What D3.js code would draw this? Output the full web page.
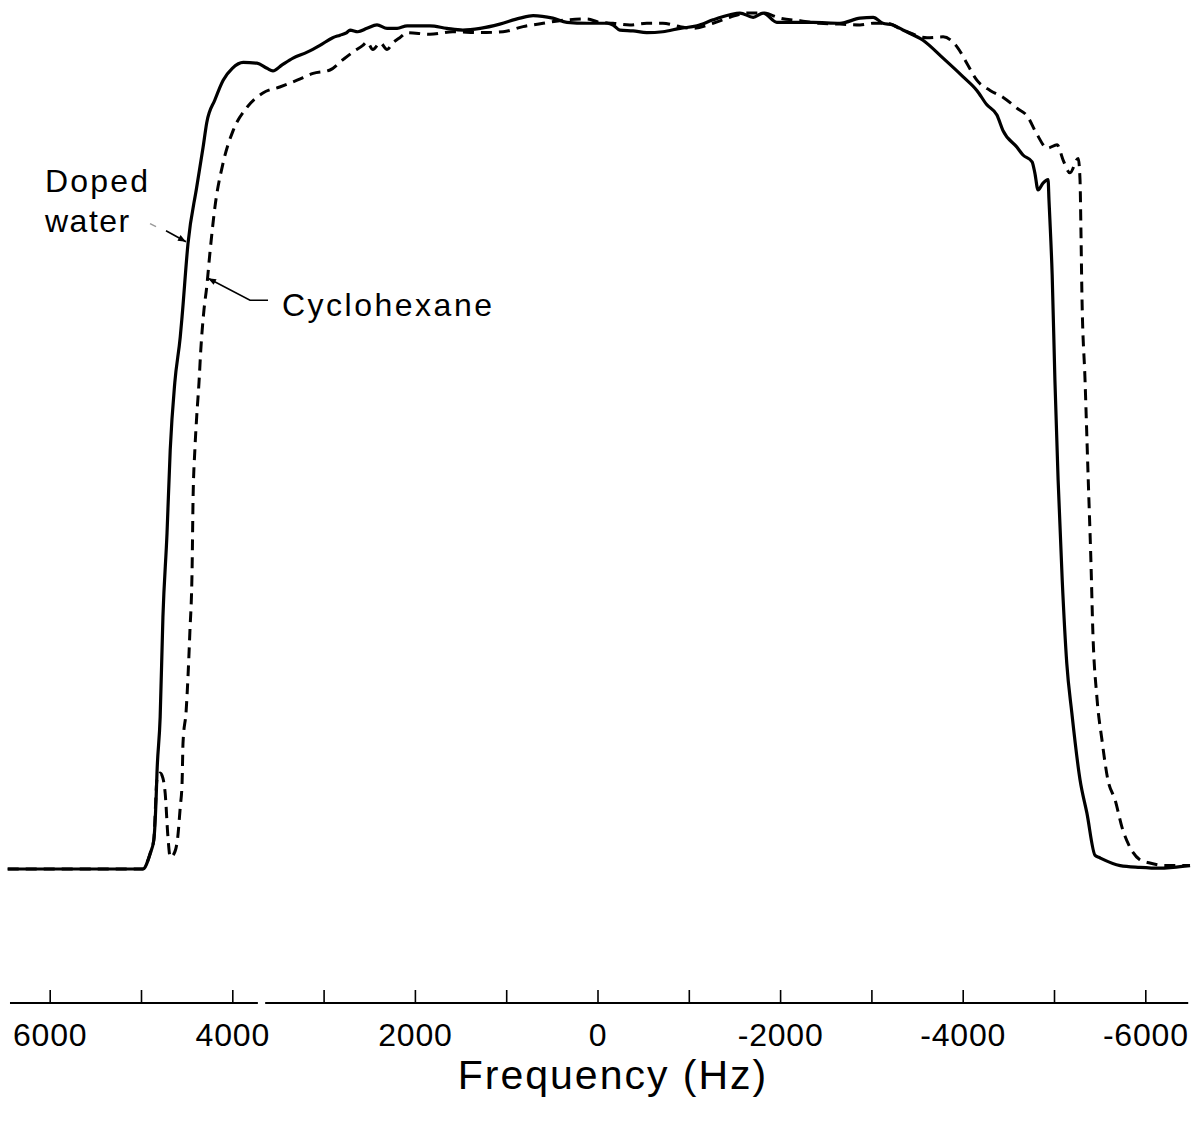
<!DOCTYPE html>
<html>
<head>
<meta charset="utf-8">
<script src="https://cdn.jsdelivr.net/npm/d3@7"></script>
<style>
  html, body { margin: 0; padding: 0; background: #fff; }
  svg { display: block; }
  text { font-family: "Liberation Sans", Arial, Helvetica, sans-serif; fill: #000; }
</style>
</head>
<body>
<svg id="chart" width="1196" height="1123"></svg>
<script>
// Frequency offsets (Hz) and relative signal for the doped-water excitation profile
const waterFreq = [6460, 4980, 4900, 4860, 4835, 4825, 4790, 4760, 4715, 4680, 4630, 4570, 4550, 4485, 4390, 4320, 4280, 4190, 4100, 4000, 3880, 3730, 3620, 3555, 3455, 3335, 3180, 3040, 2900, 2820, 2745, 2710, 2625, 2525, 2415, 2305, 2195, 2085, 1835, 1650, 1475, 1285, 1070, 850, 705, 490, 335, 115, -105, -170, -245, -390, -540, -715, -905, -1090, -1265, -1450, -1560, -1705, -1815, -1965, -2110, -2360, -2655, -2875, -3020, -3125, -3235, -3345, -3565, -3785, -4005, -4155, -4265, -4375, -4440, -4595, -4660, -4760, -4790, -4825, -4880, -4935, -4945, -4955, -4980, -5010, -5045, -5090, -5140, -5195, -5285, -5360, -5450, -5505, -5725, -5940, -6160, -6305, -6490];
const waterSignal = [0, 0, 1.8, 3.4, 8.1, 11.3, 17.9, 29.6, 39.5, 49.3, 57.2, 62.6, 65.0, 73.6, 80.2, 84.9, 87.8, 90.5, 92.8, 94.2, 94.9, 94.8, 94.2, 93.9, 94.6, 95.4, 96.1, 96.9, 97.8, 98.1, 98.4, 98.7, 98.5, 98.9, 99.3, 98.9, 98.9, 99.2, 99.2, 98.9, 98.7, 98.9, 99.4, 100.1, 100.4, 100.1, 99.6, 99.5, 99.5, 99.3, 98.7, 98.6, 98.4, 98.5, 98.9, 99.2, 99.9, 100.5, 100.7, 100.2, 100.7, 99.6, 99.6, 99.6, 99.5, 100.1, 100.2, 99.5, 99.3, 98.7, 97.5, 95.4, 93.2, 91.6, 89.9, 88.7, 86.9, 84.9, 84.0, 83.2, 81.9, 79.9, 80.7, 81.1, 78.7, 76.4, 69.9, 57.5, 45.8, 34.0, 24.2, 18.4, 10.5, 6.6, 1.6, 1.3, 0.4, 0.2, 0.1, 0.2, 0.4];

// Same measurement for cyclohexane
const cycloFreq = [6460, 4980, 4900, 4860, 4825, 4790, 4760, 4735, 4705, 4680, 4650, 4605, 4570, 4550, 4540, 4505, 4465, 4440, 4430, 4410, 4390, 4365, 4345, 4310, 4280, 4245, 4190, 4100, 3990, 3840, 3665, 3480, 3290, 3115, 2930, 2790, 2680, 2570, 2525, 2460, 2380, 2305, 2240, 2165, 2085, 1835, 1585, 1285, 1035, 815, 595, 335, 115, -25, -170, -355, -540, -715, -905, -1045, -1265, -1450, -1635, -1815, -2000, -2220, -2435, -2655, -2875, -3020, -3170, -3345, -3610, -3785, -3940, -4045, -4155, -4300, -4440, -4595, -4705, -4815, -4925, -5035, -5100, -5175, -5265, -5285, -5295, -5305, -5340, -5375, -5405, -5425, -5470, -5525, -5590, -5670, -5745, -5830, -5940, -6050, -6215, -6490];
const cycloSignal = [0, 0, 1.8, 3.4, 10.5, 11.3, 10.7, 8.9, 3.8, 1.4, 1.6, 3.1, 7.3, 10.1, 14.8, 18.7, 27.8, 35.5, 43.4, 49.3, 53.2, 57.2, 61.1, 65.8, 68.5, 72.5, 77.9, 83.1, 86.9, 89.6, 91.3, 92.0, 92.8, 93.6, 94.0, 95.2, 96.1, 96.9, 97.3, 96.4, 97.2, 96.4, 97.2, 97.8, 98.4, 98.2, 98.5, 98.4, 98.5, 99.1, 99.5, 99.9, 100, 99.6, 99.5, 99.3, 99.5, 99.5, 99.1, 98.9, 99.5, 100.2, 100.7, 100.7, 100.1, 99.8, 99.5, 99.4, 99.3, 99.5, 99.5, 98.7, 97.8, 97.9, 96.7, 94.8, 92.8, 91.6, 90.8, 89.5, 88.6, 86.4, 84.8, 85.2, 83.4, 81.9, 83.6, 81.1, 75.2, 68.1, 57.5, 45.8, 36.0, 28.1, 20.2, 15.2, 10.5, 8.1, 4.9, 2.6, 1.1, 0.7, 0.4, 0.4];

// Axis ticks and labels
const tickValues = [6000, 5000, 4000, 3000, 2000, 1000, 0, -1000, -2000, -3000, -4000, -5000, -6000];
const labelledTicks = [6000, 4000, 2000, 0, -2000, -4000, -6000];
const axisSegments = [[6435, 3720], [3640, -6470]];
const axisTitle = "Frequency (Hz)";

// Curve labels: text lines and the point on each curve the arrow points to
const waterLabel = ["Doped", "water"];
const waterArrowTip = [4507, 73.8];
const cycloLabel = "Cyclohexane";
const cycloArrowTip = [4266, 69.5];

const svg = d3.select("#chart");

const x = d3.scaleLinear().domain([6000, -6000]).range([49.7, 1145.3]);
const y = d3.scaleLinear().domain([0, 100]).range([869, 19]);

const line = d3.line()
  .x(d => x(d[0]))
  .y(d => y(d[1]))
  .curve(d3.curveMonotoneX);

const water = d3.zip(waterFreq, waterSignal);
const cyclo = d3.zip(cycloFreq, cycloSignal);

// Cyclohexane trace (dashed) underneath, doped water (solid) on top
svg.append("path")
  .datum(cyclo)
  .attr("d", line)
  .attr("fill", "none")
  .attr("stroke", "#000")
  .attr("stroke-width", 3)
  .attr("stroke-dasharray", "11,7")
  .attr("stroke-linejoin", "round");

svg.append("path")
  .datum(water)
  .attr("d", line)
  .attr("fill", "none")
  .attr("stroke", "#000")
  .attr("stroke-width", 3.2)
  .attr("stroke-linejoin", "round");

// Frequency axis with upward ticks
const axisY = 1003;
const axisG = svg.append("g").attr("transform", `translate(0,${axisY})`);
axisG.call(
  d3.axisBottom(x)
    .tickValues(tickValues)
    .tickSizeInner(-13)
    .tickSizeOuter(0)
    .tickPadding(20)
    .tickFormat(d => labelledTicks.includes(d) ? (d < 0 ? "-" + Math.abs(d) : String(d)) : "")
);
axisG.select(".domain").remove();
axisG.selectAll(".tick line").attr("stroke", "#000").attr("stroke-width", 1.6);
axisG.selectAll(".tick text")
  .attr("font-size", 32)
  .attr("letter-spacing", "0.8px")
  .attr("font-family", "'Liberation Sans', Arial, Helvetica, sans-serif")
  .attr("fill", "#000");

axisG.selectAll("line.seg")
  .data(axisSegments)
  .join("line")
  .attr("class", "seg")
  .attr("x1", d => x(d[0]))
  .attr("x2", d => x(d[1]))
  .attr("y1", 0)
  .attr("y2", 0)
  .attr("stroke", "#000")
  .attr("stroke-width", 2.2);

svg.append("text")
  .attr("x", 613)
  .attr("y", 1089)
  .attr("text-anchor", "middle")
  .attr("font-size", 41)
  .attr("letter-spacing", "2px")
  .text(axisTitle);

// Arrowhead marker
svg.append("defs").append("marker")
  .attr("id", "arrow")
  .attr("viewBox", "0 0 10 10")
  .attr("refX", 10)
  .attr("refY", 5)
  .attr("markerWidth", 10)
  .attr("markerHeight", 8)
  .attr("markerUnits", "userSpaceOnUse")
  .attr("orient", "auto")
  .append("path")
  .attr("d", "M0,1 L10,5 L0,9 Z")
  .attr("fill", "#000");

// "Doped water" label and pointer
svg.append("text")
  .attr("x", 45)
  .attr("y", 192)
  .attr("font-size", 32)
  .attr("letter-spacing", "2.2px")
  .text(waterLabel[0]);
svg.append("text")
  .attr("x", 45)
  .attr("y", 232)
  .attr("font-size", 32)
  .attr("letter-spacing", "1.5px")
  .text(waterLabel[1]);

const wtx = x(waterArrowTip[0]), wty = y(waterArrowTip[1]);
svg.append("line")
  .attr("x1", wtx - 36).attr("y1", wty - 18)
  .attr("x2", wtx - 30).attr("y2", wty - 15)
  .attr("stroke", "#999").attr("stroke-width", 1.5);
svg.append("line")
  .attr("x1", wtx - 20).attr("y1", wty - 11)
  .attr("x2", wtx).attr("y2", wty)
  .attr("stroke", "#000").attr("stroke-width", 1.6)
  .attr("marker-end", "url(#arrow)");

// "Cyclohexane" label and pointer
svg.append("text")
  .attr("x", 282)
  .attr("y", 316)
  .attr("font-size", 32)
  .attr("letter-spacing", "2.5px")
  .text(cycloLabel);

const ctx = x(cycloArrowTip[0]), cty = y(cycloArrowTip[1]);
svg.append("path")
  .attr("d", `M${ctx + 60},${cty + 22} L${ctx + 42},${cty + 22} L${ctx},${cty}`)
  .attr("fill", "none")
  .attr("stroke", "#000")
  .attr("stroke-width", 1.6)
  .attr("marker-end", "url(#arrow)");
</script>
</body>
</html>
